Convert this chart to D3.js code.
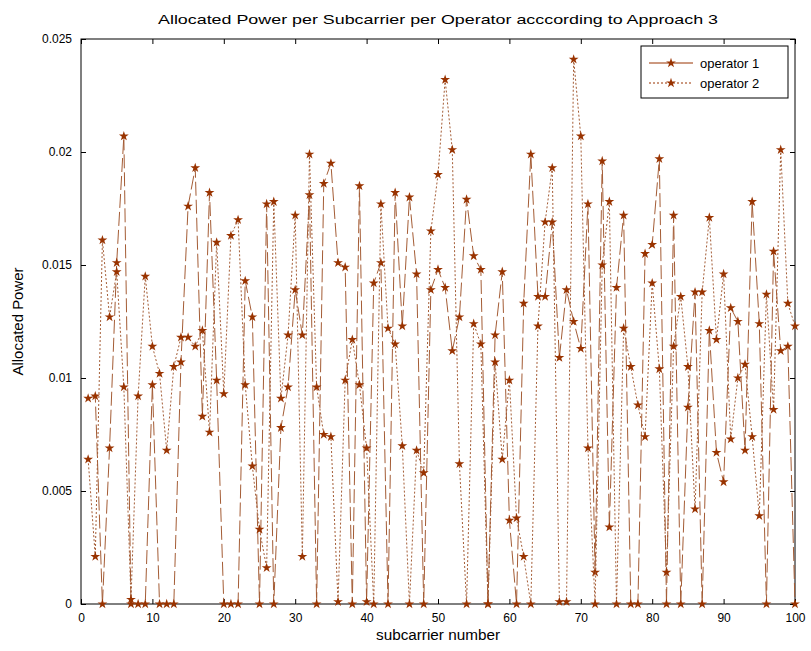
<!DOCTYPE html>
<html>
<head>
<meta charset="utf-8">
<script src="https://cdn.jsdelivr.net/npm/d3@7"></script>
<style>
  body { margin: 0; background: #fff; }
  svg text { font-family: "Liberation Sans", Arial, sans-serif; fill: #000; }
</style>
</head>
<body>
<div class="chart"></div>
<script>
var W = 811, H = 651;
var margin = {left: 81, right: 16, top: 39, bottom: 47};

// subcarrier index 1..100
var subcarriers = d3.range(1, 101);

// allocated power
var operator1 = [
  0.0091, 0.0092, 0, 0.0069, 0.0151, 0.0207, 0, 0, 0, 0.0097,
  0, 0, 0, 0.0107, 0.0176, 0.0193, 0.0083, 0.0182, 0.0099, 0,
  0, 0, 0.0143, 0.0127, 0, 0.0177, 0, 0.0078, 0.0096, 0.0139,
  0.0119, 0.0181, 0, 0.0186, 0.0195, 0.0151, 0.0149, 0, 0.0185, 0.0001,
  0.0142, 0.0151, 0, 0.0182, 0.0123, 0.0180, 0.0146, 0, 0.0139, 0.0148,
  0.0140, 0.0112, 0.0127, 0.0179, 0.0154, 0.0148, 0, 0.0119, 0.0147, 0.0037,
  0, 0.0133, 0.0199, 0.0136, 0.0136, 0.0169, 0.0109, 0.0139, 0.0125, 0.0113,
  0.0177, 0.0014, 0.0196, 0.0034, 0.0140, 0.0172, 0, 0, 0.0155, 0.0159,
  0.0197, 0, 0.0172, 0, 0.0087, 0.0138, 0, 0.0121, 0.0067, 0.0054,
  0.0131, 0.0125, 0.0068, 0.0178, 0.0124, 0, 0.0156, 0.0112, 0.0114, 0
];
var operator2 = [
  0.0064, 0.0021, 0.0161, 0.0127, 0.0147, 0.0096, 0.0002, 0.0092, 0.0145, 0.0114,
  0.0102, 0.0068, 0.0105, 0.0118, 0.0118, 0.0114, 0.0121, 0.0076, 0.0160, 0.0093,
  0.0163, 0.0170, 0.0097, 0.0061, 0.0033, 0.0016, 0.0178, 0.0091, 0.0119, 0.0172,
  0.0021, 0.0199, 0.0096, 0.0075, 0.0074, 0.0001, 0.0099, 0.0117, 0.0097, 0.0069,
  0, 0.0177, 0.0122, 0.0115, 0.0070, 0, 0.0068, 0.0058, 0.0165, 0.0190,
  0.0232, 0.0201, 0.0062, 0, 0.0124, 0.0115, 0, 0.0107, 0.0064, 0.0099,
  0.0038, 0.0021, 0, 0.0123, 0.0169, 0.0193, 0.0001, 0.0001, 0.0241, 0.0207,
  0.0069, 0, 0.0150, 0.0178, 0, 0.0122, 0.0105, 0.0088, 0.0074, 0.0142,
  0.0104, 0.0014, 0.0114, 0.0136, 0.0105, 0.0042, 0.0138, 0.0171, 0.0117, 0.0146,
  0.0073, 0.0100, 0.0106, 0.0074, 0.0039, 0.0137, 0.0086, 0.0201, 0.0133, 0.0123
];

var seriesNames = ["operator 1", "operator 2"];
var xTicks = [0, 10, 20, 30, 40, 50, 60, 70, 80, 90, 100];
var yTicks = [0, 0.005, 0.01, 0.015, 0.02, 0.025];
var yTickLabels = ["0", "0.005", "0.01", "0.015", "0.02", "0.025"];

var colour = "#993300";
var lineColour = "#a45c35";

var svg = d3.select(".chart").append("svg")
    .attr("width", W).attr("height", H);

var x = d3.scaleLinear().domain([0, 100]).range([margin.left, W - margin.right]);
var y = d3.scaleLinear().domain([0, 0.025]).range([H - margin.bottom, margin.top]);

// axes box with inward ticks (matlab style)
var tickLen = 5;
svg.append("g").attr("transform", `translate(0,${y(0)})`)
    .call(d3.axisBottom(x).tickValues(xTicks).tickSizeInner(-tickLen).tickSizeOuter(0).tickPadding(9))
    .call(g => g.select(".domain").remove());
svg.append("g").attr("transform", `translate(0,${y(0.025)})`)
    .call(d3.axisTop(x).tickValues(xTicks).tickSizeInner(-tickLen).tickSizeOuter(0).tickFormat(""))
    .call(g => g.select(".domain").remove());
svg.append("g").attr("transform", `translate(${x(0)},0)`)
    .call(d3.axisLeft(y).tickValues(yTicks).tickSizeInner(-tickLen).tickSizeOuter(0).tickPadding(9)
        .tickFormat((d, i) => yTickLabels[i]))
    .call(g => g.select(".domain").remove());
svg.append("g").attr("transform", `translate(${x(100)},0)`)
    .call(d3.axisRight(y).tickValues(yTicks).tickSizeInner(-tickLen).tickSizeOuter(0).tickFormat(""))
    .call(g => g.select(".domain").remove());

svg.selectAll(".tick text").style("font-size", "12px");
svg.selectAll(".tick line").attr("stroke", "#000");

svg.append("rect")
    .attr("x", x(0)).attr("y", y(0.025))
    .attr("width", x(100) - x(0)).attr("height", y(0) - y(0.025))
    .attr("fill", "none").attr("stroke", "#000").attr("stroke-width", 1);

// the two series
var star = d3.symbol().type(d3.symbolStar).size(30);
var line = d3.line().x((d, i) => x(subcarriers[i])).y(d => y(d));

function drawSeries(values, dash) {
  svg.append("path")
      .datum(values)
      .attr("d", line)
      .attr("fill", "none")
      .attr("stroke", lineColour)
      .attr("stroke-width", 1)
      .attr("stroke-dasharray", dash);
  svg.append("g").selectAll("path")
      .data(values)
      .enter().append("path")
      .attr("d", star)
      .attr("transform", (d, i) => `translate(${x(subcarriers[i])},${y(d)})`)
      .attr("fill", colour);
}
// solid line of operator 1 shows up broken into long dashes in the picture
drawSeries(operator1, "14,4");
drawSeries(operator2, "2,2");

// titles (stretched to the width they take in the picture)
svg.append("text")
    .attr("x", (x(0) + x(100)) / 2).attr("y", 24)
    .attr("text-anchor", "middle").style("font-size", "13px")
    .attr("textLength", 560).attr("lengthAdjust", "spacingAndGlyphs")
    .text("Allocated Power per Subcarrier per Operator acccording to Approach 3");
svg.append("text")
    .attr("x", (x(0) + x(100)) / 2).attr("y", 640)
    .attr("text-anchor", "middle").style("font-size", "14px")
    .attr("textLength", 124).attr("lengthAdjust", "spacingAndGlyphs")
    .text("subcarrier number");
svg.append("text")
    .attr("transform", `translate(23,${(y(0) + y(0.025)) / 2}) rotate(-90)`)
    .attr("text-anchor", "middle").style("font-size", "14px")
    .attr("textLength", 108).attr("lengthAdjust", "spacingAndGlyphs")
    .text("Allocated Power");

// legend
var lg = svg.append("g").attr("transform", "translate(641,46)");
lg.append("rect").attr("width", 147).attr("height", 52)
    .attr("fill", "#fff").attr("stroke", "#000");
seriesNames.forEach(function(name, i) {
  var ly = 17 + i * 20;
  lg.append("line").attr("x1", 8).attr("x2", 52).attr("y1", ly).attr("y2", ly)
      .attr("stroke", colour).attr("stroke-dasharray", i ? "2,2" : null);
  lg.append("path").attr("d", star).attr("transform", `translate(30,${ly})`).attr("fill", colour);
  lg.append("text").attr("x", 59).attr("y", ly + 5).style("font-size", "13px").text(name);
});
</script>
</body>
</html>
